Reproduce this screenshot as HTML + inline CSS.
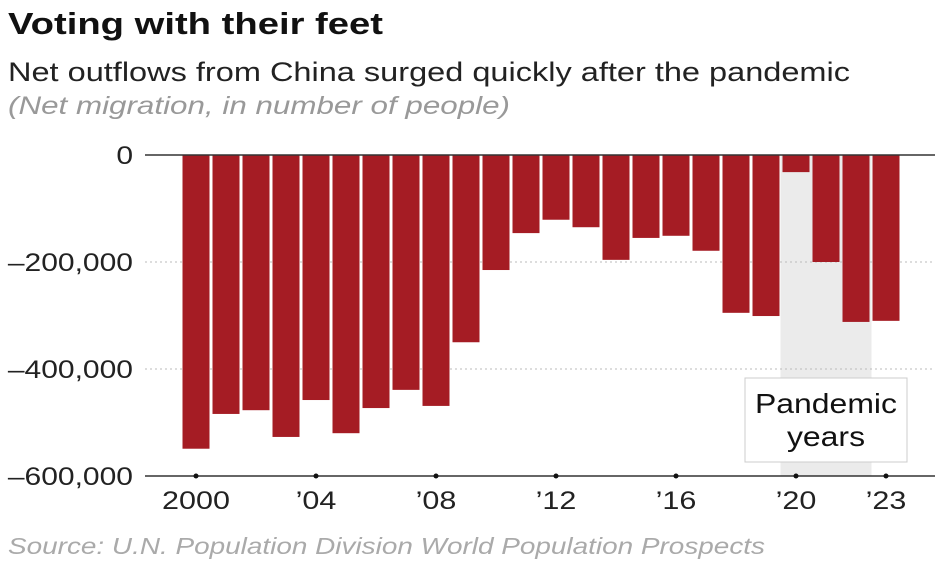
<!DOCTYPE html>
<html><head><meta charset="utf-8"><style>
body{margin:0;background:#fff;width:943px;height:561px;overflow:hidden;font-family:"Liberation Sans",sans-serif}
</style></head><body>
<svg id="c" width="943" height="561" xmlns="http://www.w3.org/2000/svg">
<text x="8" y="34" font-size="31" font-weight="bold" fill="#111" textLength="375" lengthAdjust="spacingAndGlyphs">Voting with their feet</text>
<text x="8" y="81" font-size="27" fill="#222" textLength="842" lengthAdjust="spacingAndGlyphs">Net outflows from China surged quickly after the pandemic</text>
<text x="8" y="114" font-size="25" font-style="italic" fill="#999" textLength="502" lengthAdjust="spacingAndGlyphs">(Net migration, in number of people)</text>
<text x="8" y="554" font-size="23" font-style="italic" fill="#aaa" textLength="757" lengthAdjust="spacingAndGlyphs">Source: U.N. Population Division World Population Prospects</text>
<g id="plot"></g>
</svg>
<script>
const years=[2000,2001,2002,2003,2004,2005,2006,2007,2008,2009,2010,2011,2012,2013,2014,2015,2016,2017,2018,2019,2020,2021,2022,2023];
const values=[-549000,-484000,-477000,-527000,-458000,-520000,-473000,-439000,-469000,-350000,-215000,-146000,-121000,-135000,-196000,-155000,-151000,-179000,-295000,-301000,-32000,-200000,-312000,-310000];
const yTicks=[0,-200000,-400000,-600000];
const yTickLabels=["0","\u2013200,000","\u2013400,000","\u2013600,000"];
const xTickYears=[2000,2004,2008,2012,2016,2020,2023];
const xTickLabels=["2000","\u201904","\u201908","\u201912","\u201916","\u201920","\u201923"];
const pandemicYears=[2020,2022];
const NS="http://www.w3.org/2000/svg";
const g=document.getElementById('plot');
const y=v=>155+(-v)/200000*107;
const x=yr=>196+(yr-2000)*30;
const bw=27;
function mk(t,a){const e=document.createElementNS(NS,t);for(const k in a)e.setAttribute(k,a[k]);g.appendChild(e);return e;}
function widen(e,f){const w=e.getComputedTextLength();e.setAttribute('textLength',w*f);e.setAttribute('lengthAdjust','spacingAndGlyphs');}
let sh=mk('rect',{x:x(pandemicYears[0])-bw/2-2,y:y(0),width:x(pandemicYears[1])-x(pandemicYears[0])+bw+4,height:y(-600000)-y(0),fill:'#ebebeb'});


yTicks.forEach((t,i)=>{
 if(t!==0&&t!==-600000){const l=mk('line',{x1:145,x2:935,y1:y(t),y2:y(t),stroke:'#bbb','stroke-dasharray':'2,3'});
 
 }
 const tx=mk('text',{x:133,y:y(t)+9,'font-size':25,'text-anchor':'end',fill:'#222'});tx.textContent=yTickLabels[i];
 
 
 widen(tx,1.2);
});
years.forEach((yr,i)=>{
 const r=mk('rect',{x:x(yr)-bw/2,y:y(0),width:bw,height:y(values[i])-y(0),fill:'#a51c24'});
 
 
});
let z=mk('line',{x1:145,x2:935,y1:y(0),y2:y(0),stroke:'#333','stroke-width':1.5});


let b=mk('line',{x1:145,x2:935,y1:y(-600000),y2:y(-600000),stroke:'#333','stroke-width':1.5});


xTickYears.forEach((yr,i)=>{
 const d=mk('circle',{cx:x(yr),cy:y(-600000),r:2.5,fill:'#111'});
 
 
 const tx=mk('text',{x:x(yr),y:509,'font-size':25,'text-anchor':'middle',fill:'#222'});tx.textContent=xTickLabels[i];
 
 
 widen(tx,1.22);
});
let box=mk('rect',{x:745,y:378,width:162,height:84,fill:'#fff',stroke:'#ccc'});


let t1=mk('text',{x:826,y:413,'font-size':28,'text-anchor':'middle',fill:'#111'});t1.textContent='Pandemic';


widen(t1,1.14);
let t2=mk('text',{x:826,y:446,'font-size':28,'text-anchor':'middle',fill:'#111'});t2.textContent='years';


widen(t2,1.14);
</script>
</body></html>
